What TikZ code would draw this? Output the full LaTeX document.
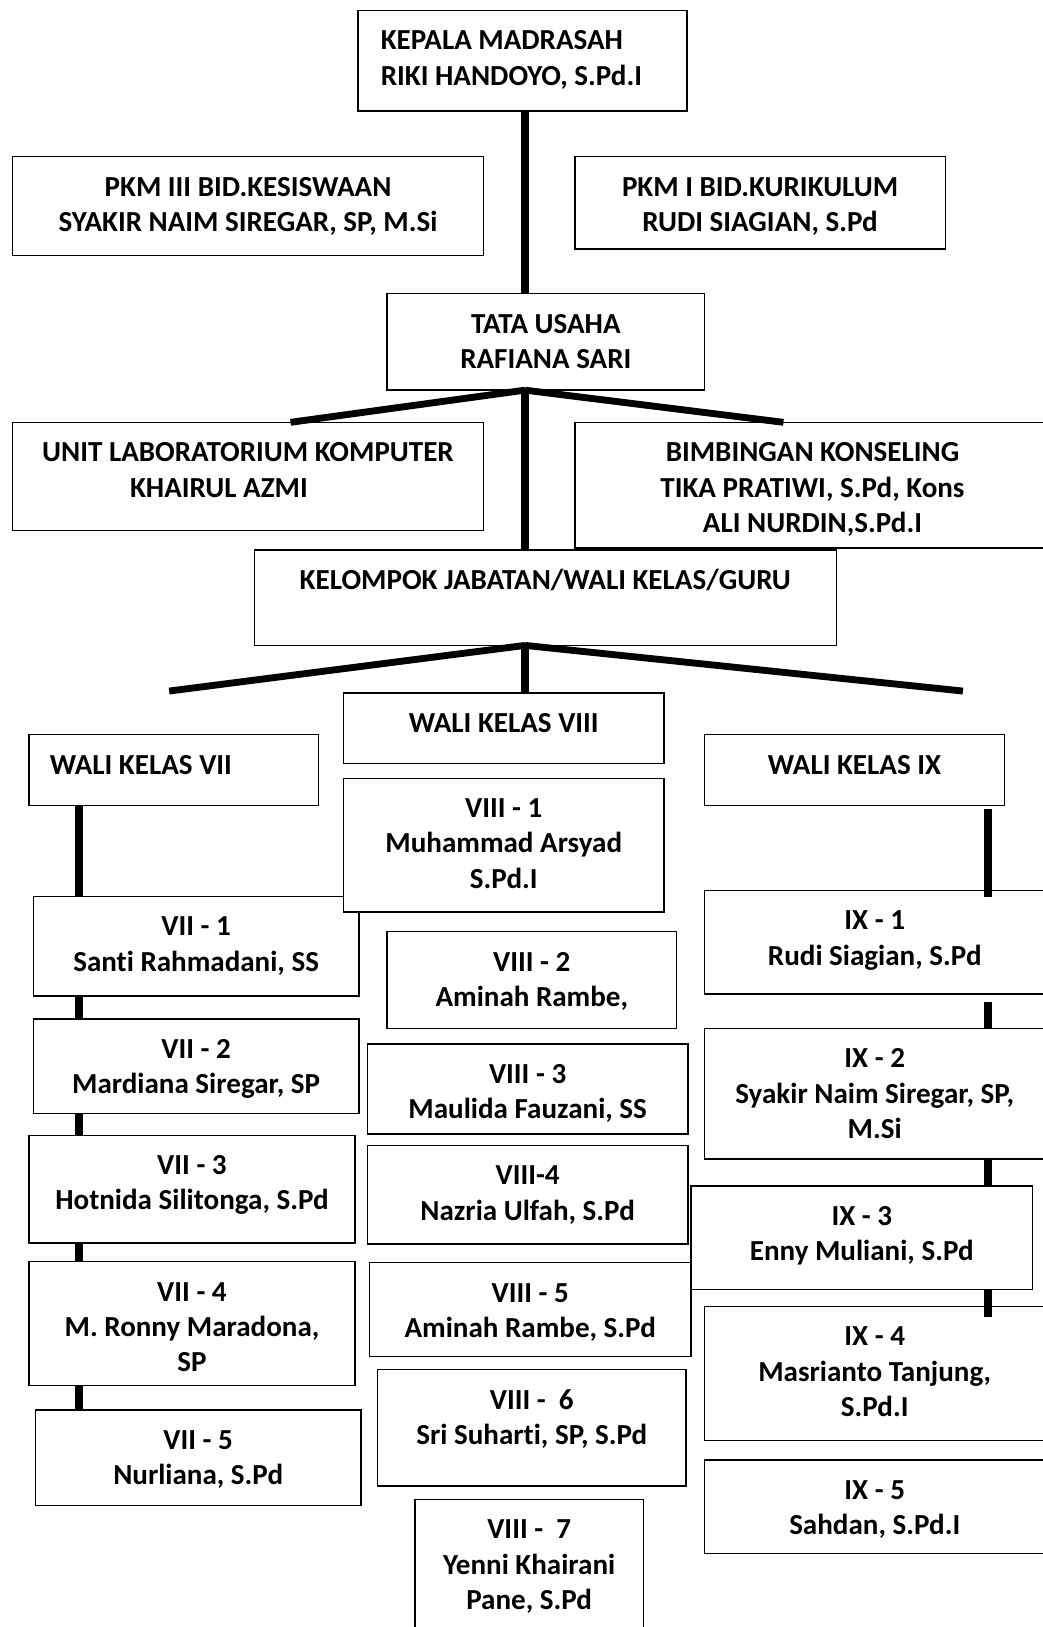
\documentclass[tikz,border=0pt]{standalone}
\usepackage{fontspec}
\setmainfont{Carlito}[Ligatures=NoCommon]
\tikzset{
  obx/.style={draw, line width=0.65pt, fill=white, inner sep=0pt, outer sep=0pt, anchor=north west,
              font=\fontsize{14pt}{17pt}\selectfont\bfseries},
  conn/.style={line width=3.8pt, line cap=butt},
  diag/.style={line width=3.3pt, line cap=butt},
}
\newcommand\obox[7]{%
  \node[obx] (#1) at (#2,#3) {\parbox[c][\dimexpr(#5pt-#3pt)/2\relax][t]{\dimexpr(#4pt-#2pt)/2\relax}{#6\rule{0pt}{19pt}#7}};}
\begin{document}
\begin{tikzpicture}[x=0.5pt,y=-0.5pt]
\useasboundingbox (0,0) rectangle (1005,1568);
\fill[white] (0,0) rectangle (1005,1568);
\clip (0,0) rectangle (1005,1568);
% boxes
\obox{kepala}{345}{10}{662}{107}{\leftskip=11pt\relax}{KEPALA MADRASAH\\RIKI HANDOYO, S.Pd.I}
\obox{pkm3}{12}{151}{466}{246}{\centering}{PKM III BID.KESISWAAN\\SYAKIR NAIM SIREGAR, SP, M.Si}
\obox{pkm1}{554}{151}{911}{240}{\centering}{PKM I BID.KURIKULUM\\RUDI SIAGIAN, S.Pd}
\obox{tata}{373}{283}{679}{376}{\centering}{TATA USAHA\\RAFIANA SARI}
\obox{lab}{12}{407}{466}{511}{\centering}{UNIT LABORATORIUM KOMPUTER\hspace*{5pt}\\KHAIRUL AZMI\hspace*{28pt}}
\obox{bk}{554}{407}{1012}{528}{\centering}{BIMBINGAN KONSELING\\TIKA PRATIWI, S.Pd, Kons\\ALI NURDIN,S.Pd.I}
\obox{kel}{245}{530}{806}{622}{\centering}{KELOMPOK JABATAN/WALI KELAS/GURU}
\obox{wk8}{331}{668}{640}{736}{\centering}{WALI KELAS VIII}
\obox{wk7}{28}{708}{307}{776}{\leftskip=10pt\relax}{WALI KELAS VII}
\obox{wk9}{679}{708}{968}{776}{\centering}{WALI KELAS IX}
\obox{v71}{32}{864}{346}{960}{\centering}{VII - 1\\Santi Rahmadani, SS}
\obox{v81}{331}{750}{640}{879}{\centering}{VIII - 1\\Muhammad Arsyad\\S.Pd.I}
\obox{v82}{373}{898}{652}{991}{\centering}{VIII - 2\\Aminah Rambe,}
\obox{ix1}{679}{858}{1007}{958}{\centering}{IX - 1\\Rudi Siagian, S.Pd}
\obox{v72}{32}{982}{346}{1073}{\centering}{VII - 2\\Mardiana Siregar, SP}
\obox{v83}{354}{1006}{663}{1093}{\centering}{VIII - 3\\Maulida Fauzani, SS}
\obox{ix2}{679}{991}{1007}{1117}{\centering}{IX - 2\\Syakir Naim Siregar, SP,\\M.Si}
\obox{v73}{28}{1094}{342}{1198}{\centering}{VII - 3\\Hotnida Silitonga, S.Pd}
\obox{v84}{354}{1104}{663}{1199}{\centering}{VIII-4\\Nazria Ulfah, S.Pd}
\obox{ix3}{666}{1143}{995}{1243}{\centering}{IX - 3\\Enny Muliani, S.Pd}
\obox{v74}{28}{1216}{342}{1335}{\centering}{VII - 4\\M. Ronny Maradona,\\SP}
\obox{v85}{356}{1217}{666}{1307}{\centering}{VIII - 5\\Aminah Rambe, S.Pd}
\obox{ix4}{679}{1259}{1007}{1388}{\centering}{IX - 4\\Masrianto Tanjung,\\S.Pd.I}
\obox{v75}{34}{1359}{348}{1451}{\centering}{VII - 5\\Nurliana, S.Pd}
\obox{v86}{364}{1320}{661}{1432}{\centering}{VIII -\ \ 6\\Sri Suharti, SP, S.Pd}
\obox{ix5}{679}{1407}{1007}{1497}{\centering}{IX - 5\\Sahdan, S.Pd.I}
\obox{v87}{400}{1445}{620}{1590}{\centering}{VIII -\ \ 7\\Yenni Khairani\\Pane, S.Pd}
% helper coordinates
\coordinate (ax) at (506,0);
\coordinate (c7) at (76,0);
\coordinate (c9) at (952,0);
\coordinate (labx) at (280,0);
\coordinate (bkx) at (755,0);
\coordinate (lfree) at (163,666);
\coordinate (rfree) at (928,666);
% connectors
\draw[conn] (kepala.south -| ax) -- (tata.north -| ax);
\draw[conn] (tata.south -| ax) -- (kel.north -| ax);
\draw[diag] (tata.south -| ax) -- (lab.north -| labx);
\draw[diag] (tata.south -| ax) -- (bk.north -| bkx);
\draw[conn] (kel.south -| ax) -- (wk8.north -| ax);
\draw[diag] (kel.south -| ax) -- (lfree);
\draw[diag] (kel.south -| ax) -- (rfree);
\draw[conn] (wk7.south -| c7) -- (v71.north -| c7);
\draw[conn] (v71.south -| c7) -- (v72.north -| c7);
\draw[conn] (v72.south -| c7) -- (v73.north -| c7);
\draw[conn] (v73.south -| c7) -- (v74.north -| c7);
\draw[conn] (v74.south -| c7) -- (v75.north -| c7);
\draw[conn, shorten <=2pt, shorten >=-3pt] (wk9.south -| c9) -- (ix1.north -| c9);
\draw[conn, shorten <=4pt] (ix1.south -| c9) -- (ix2.north -| c9);
\draw[conn] (ix2.south -| c9) -- (ix3.north -| c9);
\draw[conn, shorten >=-5pt] (ix3.south -| c9) -- (ix4.north -| c9);
\end{tikzpicture}
\end{document}
